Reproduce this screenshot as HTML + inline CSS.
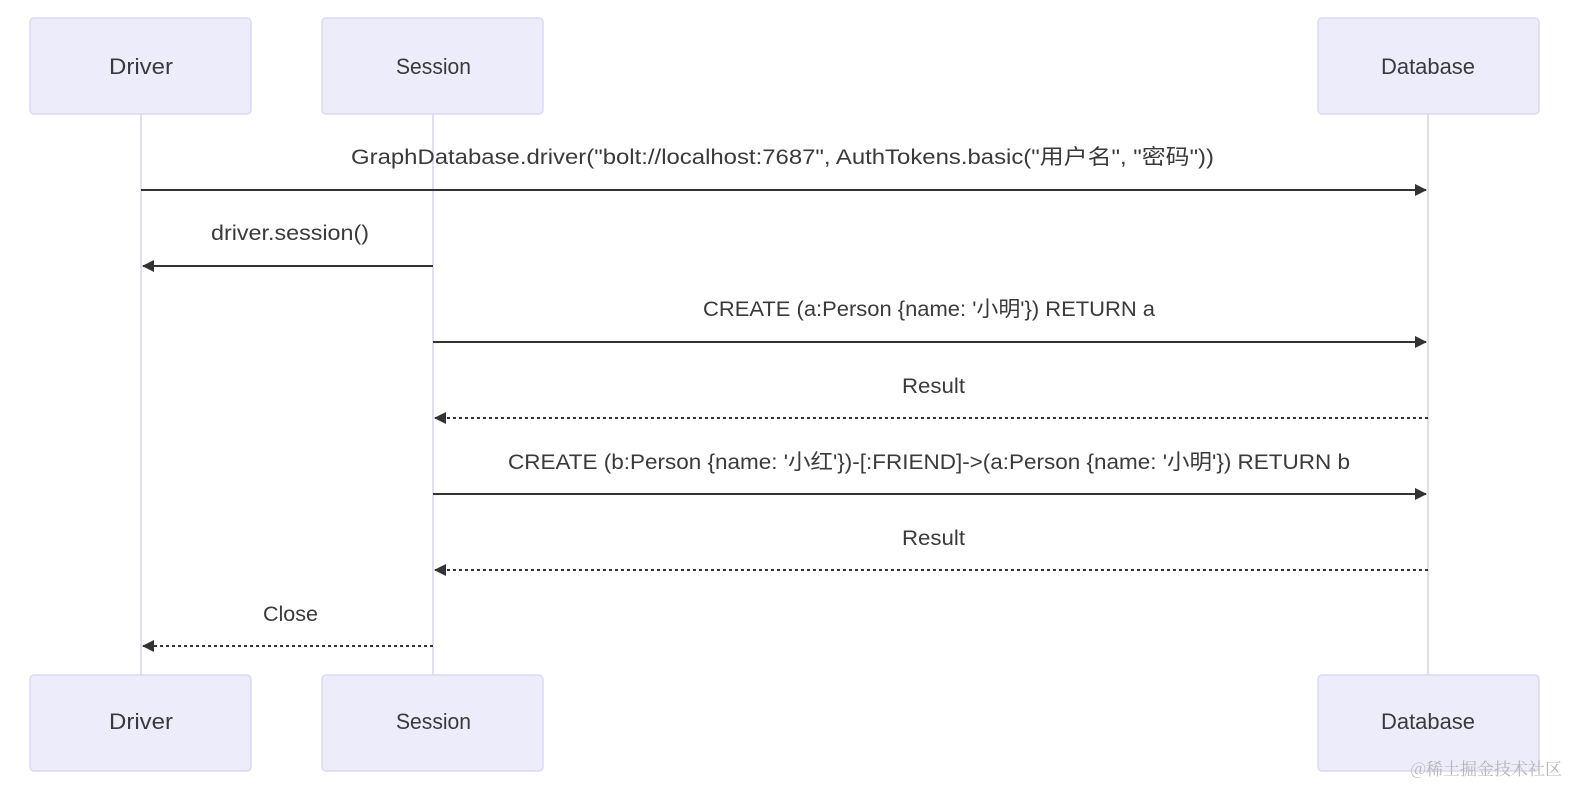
<!DOCTYPE html>
<html><head><meta charset="utf-8"><style>
body{margin:0;background:#fff;width:1569px;height:786px;overflow:hidden}
svg text{font-family:"Liberation Sans","Noto Sans CJK SC",sans-serif;fill:#3a3a3a}
</style></head><body>
<svg width="1569" height="786" xmlns="http://www.w3.org/2000/svg">
<defs><marker id="a" markerWidth="12" markerHeight="12" refX="11" refY="6" orient="auto" markerUnits="userSpaceOnUse"><path d="M0,0 L12,6 L0,12 z" fill="#333"/></marker></defs>
<g stroke="#d6d4f2" stroke-width="1.5">
<line x1="141" y1="114" x2="141" y2="675"/><line x1="433" y1="114" x2="433" y2="675"/><line x1="1428" y1="114" x2="1428" y2="675"/></g>
<g fill="#ececfb" stroke="#dcdaf4" stroke-width="1.5">
<rect x="30" y="18" width="221" height="96" rx="4"/><rect x="322" y="18" width="221" height="96" rx="4"/><rect x="1318" y="18" width="221" height="96" rx="4"/>
<rect x="30" y="675" width="221" height="96" rx="4"/><rect x="322" y="675" width="221" height="96" rx="4"/><rect x="1318" y="675" width="221" height="96" rx="4"/></g>
<g font-size="22" lengthAdjust="spacingAndGlyphs">
<text x="109" y="74" textLength="64" lengthAdjust="spacingAndGlyphs">Driver</text>
<text x="396" y="74" textLength="75" lengthAdjust="spacingAndGlyphs">Session</text>
<text x="1381" y="74" textLength="94" lengthAdjust="spacingAndGlyphs">Database</text>
<text x="109" y="729" textLength="64" lengthAdjust="spacingAndGlyphs">Driver</text>
<text x="396" y="729" textLength="75" lengthAdjust="spacingAndGlyphs">Session</text>
<text x="1381" y="729" textLength="94" lengthAdjust="spacingAndGlyphs">Database</text></g>
<g stroke="#333" stroke-width="2" fill="none">
<line x1="141" y1="190" x2="1426" y2="190" marker-end="url(#a)"/>
<line x1="433" y1="266" x2="143" y2="266" marker-end="url(#a)"/>
<line x1="433" y1="342" x2="1426" y2="342" marker-end="url(#a)"/>
<line x1="1428" y1="418" x2="435" y2="418" stroke-dasharray="3,3" marker-end="url(#a)"/>
<line x1="433" y1="494" x2="1426" y2="494" marker-end="url(#a)"/>
<line x1="1428" y1="570" x2="435" y2="570" stroke-dasharray="3,3" marker-end="url(#a)"/>
<line x1="433" y1="646" x2="143" y2="646" stroke-dasharray="3,3" marker-end="url(#a)"/></g>
<g font-size="21">
<text x="351" y="164" textLength="863" lengthAdjust="spacingAndGlyphs">GraphDatabase.driver("bolt://localhost:7687", AuthTokens.basic("用户名", "密码"))</text>
<text x="211" y="240" textLength="158" lengthAdjust="spacingAndGlyphs">driver.session()</text>
<text x="703" y="316" textLength="452" lengthAdjust="spacingAndGlyphs">CREATE (a:Person {name: '小明'}) RETURN a</text>
<text x="902" y="393" textLength="63" lengthAdjust="spacingAndGlyphs">Result</text>
<text x="508" y="469" textLength="842" lengthAdjust="spacingAndGlyphs">CREATE (b:Person {name: '小红'})-[:FRIEND]-&gt;(a:Person {name: '小明'}) RETURN b</text>
<text x="902" y="545" textLength="63" lengthAdjust="spacingAndGlyphs">Result</text>
<text x="263" y="621" textLength="55" lengthAdjust="spacingAndGlyphs">Close</text></g>
<text x="1562" y="775" font-size="17" text-anchor="end" style="fill:#b5b5b5;font-family:'Noto Serif CJK SC',serif">@稀土掘金技术社区</text>
</svg></body></html>
